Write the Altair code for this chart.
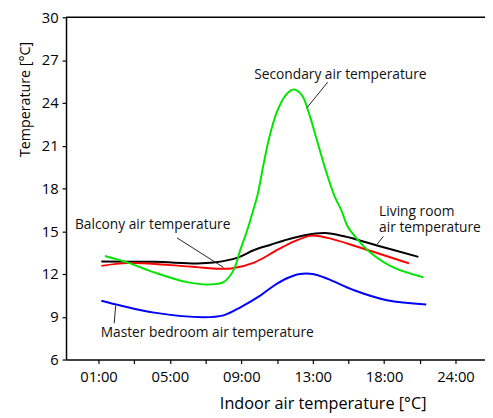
import altair as alt
import pandas as pd

# x positions are slot indices: 0=01:00, 1=05:00, 2=09:00, 3=13:00, 4=18:00, 5=24:00
tick_labels = ["01:00", "05:00", "09:00", "13:00", "18:00", "24:00"]

living_x = [0.04, 0.78, 1.38, 1.61, 1.95, 2.18, 2.41, 2.60, 2.89, 3.17, 3.44, 3.90, 4.48]
living_y = [12.88, 12.85, 12.74, 12.80, 13.15, 13.68, 14.05, 14.35, 14.72, 14.87, 14.64, 14.00, 13.20]

balcony_x = [0.04, 0.41, 1.01, 1.38, 1.61, 1.86, 2.18, 2.51, 2.75, 2.98, 3.21, 3.67, 4.35]
balcony_y = [12.57, 12.76, 12.62, 12.48, 12.38, 12.39, 12.80, 13.70, 14.30, 14.69, 14.53, 13.84, 12.74]

secondary_x = [0.09, 0.41, 0.78, 1.24, 1.56, 1.75, 1.86, 1.92, 1.98, 2.07, 2.16, 2.23, 2.30, 2.39, 2.50,
               2.62, 2.73, 2.85, 2.94, 3.05, 3.17, 3.31, 3.40, 3.49, 3.63, 3.81, 4.13, 4.55]
secondary_y = [13.26, 12.80, 12.11, 11.43, 11.27, 11.43, 12.00, 12.60, 13.60, 14.87, 16.35, 17.60, 19.40, 21.54, 23.38,
               24.53, 24.94, 24.53, 23.38, 21.54, 19.47, 17.40, 16.48, 15.33, 14.41, 13.49, 12.46, 11.77]

master_x = [0.04, 0.32, 0.78, 1.47, 1.75, 2.00, 2.27, 2.46, 2.64, 2.82, 3.00, 3.21, 3.58, 4.04, 4.59]
master_y = [10.12, 9.77, 9.29, 8.97, 9.10, 9.70, 10.50, 11.19, 11.70, 12.00, 12.00, 11.66, 10.86, 10.16, 9.86]

series_names = ["Living room", "Balcony", "Secondary", "Master bedroom"]
series_colors = ["#000000", "#ff0000", "#00e600", "#0000ff"]

rows = []
for name, xs, ys in [("Living room", living_x, living_y), ("Balcony", balcony_x, balcony_y),
                     ("Secondary", secondary_x, secondary_y), ("Master bedroom", master_x, master_y)]:
    for i, (a, b) in enumerate(zip(xs, ys)):
        rows.append({"series": name, "x": a, "y": b, "order": i})
df = pd.DataFrame(rows)

# annotation texts ("|" marks a line break)
ann_text = ["Secondary air temperature", "Balcony air temperature", "Living room|air temperature",
            "Master bedroom air temperature"]
ann_x = [2.18, -0.33, 3.93, 0.03]
ann_y = [25.93, 15.45, 16.31, 7.86]
ann_df = pd.DataFrame({"t": ann_text, "x": ann_x, "y": ann_y})

# leader lines
lead_x = [3.21, 1.10, 3.99, 0.24]
lead_y = [25.45, 14.53, 14.64, 9.77]
lead_x2 = [2.92, 1.75, 3.90, 0.22]
lead_y2 = [23.66, 12.46, 14.07, 8.55]
lead_df = pd.DataFrame({"x": lead_x, "y": lead_y, "x2": lead_x2, "y2": lead_y2})

XDOM = [-0.455, 5.413]
YDOM = [6, 30]
FONT = "Open Sans"

x_vals = [i * 0.5 for i in range(0, 11)]
y_vals = [6 + 1.5 * i for i in range(0, 17)]

lbl_arr = "[" + ",".join("'%s'" % s for s in tick_labels) + "]"

xscale = alt.Scale(domain=XDOM, nice=False, zero=False)
yscale = alt.Scale(domain=YDOM, nice=False, zero=False)

lines = alt.Chart(df).mark_line(strokeWidth=2, interpolate="catmull-rom").encode(
    x=alt.X("x:Q", scale=xscale, axis=alt.Axis(
        values=x_vals,
        labelExpr=f"datum.value % 1 == 0 ? {lbl_arr}[datum.value] : ''",
        title="Indoor air temperature [°C]",
        titleX=261, titleY=45, titleAlign="center", titleBaseline="middle", titleFontSize=16.5,
    )),
    y=alt.Y("y:Q", scale=yscale, axis=alt.Axis(
        values=y_vals,
        labelExpr="datum.value % 3 == 0 ? datum.label : ''",
        title="Temperature [°C]",
        titleX=-41, titleY=83, titleAlign="center", titleBaseline="middle", titleAngle=-90,
        titleFontSize=14.5,
    )),
    color=alt.Color("series:N", scale=alt.Scale(domain=series_names, range=series_colors), legend=None),
    order="order:Q",
)

top_rule = alt.Chart(pd.DataFrame({"x": [XDOM[0]], "x2": [XDOM[1]], "y": [30]})).mark_rule(
    color="black", strokeWidth=1.5
).encode(x=alt.X("x:Q", scale=xscale), x2="x2:Q", y=alt.Y("y:Q", scale=yscale))

leaders = alt.Chart(lead_df).mark_rule(color="#222222", strokeWidth=1).encode(
    x=alt.X("x:Q", scale=xscale), y=alt.Y("y:Q", scale=yscale), x2="x2:Q", y2="y2:Q"
)

texts = alt.Chart(ann_df).mark_text(align="left", baseline="middle", fontSize=14, font=FONT,
                                    color="#111111", lineBreak="|", lineHeight=16).encode(
    x=alt.X("x:Q", scale=xscale), y=alt.Y("y:Q", scale=yscale), text="t:N"
)

chart = alt.layer(lines, top_rule, leaders, texts).properties(
    width=426, height=348,
    autosize=alt.AutoSizeParams(type="none"),
    padding={"left": 59, "top": 6, "right": 0, "bottom": 56},
).configure_view(stroke=None).configure_axis(
    grid=False, domainColor="black", domainWidth=1.5, tickColor="black", tickSize=4, tickWidth=1.2,
    labelColor="black", labelFont=FONT, labelFontSize=15, labelPadding=4,
    titleColor="black", titleFont=FONT, titleFontSize=15, titleFontWeight="normal",
).configure_axisX(labelPadding=6)

chart.save("out.html", embed_options={"renderer": "svg", "actions": False})
